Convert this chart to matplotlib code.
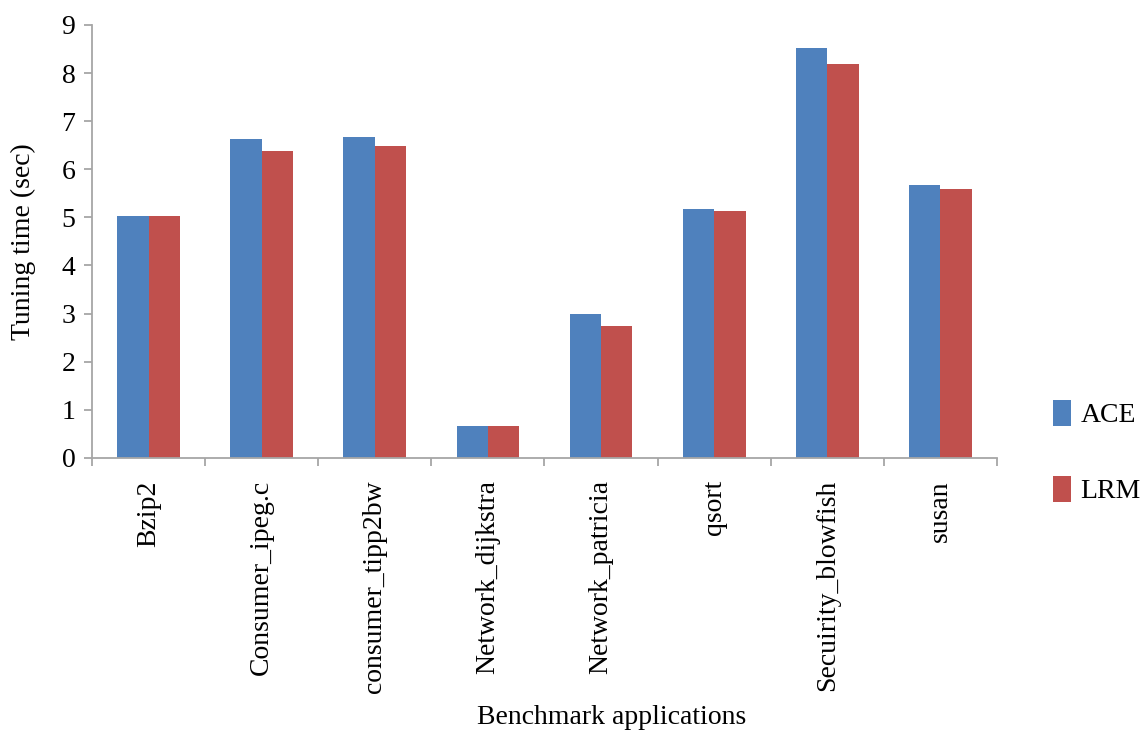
import numpy as np
import matplotlib
matplotlib.use("Agg")
import matplotlib.pyplot as plt

# data
apps = ["Bzip2", "Consumer_ipeg.c", "consumer_tipp2bw", "Network_dijkstra",
        "Network_patricia", "qsort", "Secuirity_blowfish", "susan"]
ace = [5.02, 6.62, 6.67, 0.67, 2.99, 5.18, 8.52, 5.67]
lrm = [5.02, 6.37, 6.49, 0.67, 2.74, 5.14, 8.19, 5.59]

plt.rcParams["font.family"] = ["Liberation Serif", "DejaVu Serif"]

fig = plt.figure(figsize=(11.47, 7.35), dpi=100)
ax = fig.add_axes([0.0802, 0.377, 0.789, 0.589])

x = np.arange(len(apps))
w = 0.277
ax.bar(x - w / 2, ace, w, color="#4F81BD", label="ACE")
ax.bar(x + w / 2, lrm, w, color="#C0504D", label="LRM")

ax.set_xlim(-0.5, len(apps) - 0.5)
ax.set_ylim(0, 9)
ax.set_yticks(range(10))

axis_col = "#a6a6a6"
for s in ["top", "right"]:
    ax.spines[s].set_visible(False)
for s in ["left", "bottom"]:
    ax.spines[s].set_color(axis_col)
    ax.spines[s].set_linewidth(1.3)

ax.set_xticks(x)
ax.set_xticklabels(apps, rotation=90, fontsize=20, va="top")
ax.set_xticks(np.arange(len(apps) + 1) - 0.5, minor=True)
ax.tick_params(axis="x", which="major", length=0, pad=16)
ax.tick_params(axis="x", which="minor", length=6, color=axis_col, width=1.3)
ax.tick_params(axis="y", labelsize=20, length=6, color=axis_col, width=1.3, pad=6)

ax.set_ylabel("Tuning time (sec)", fontsize=20, labelpad=18)
fig.text(0.533, 0.024, "Benchmark applications", fontsize=20, ha="center", va="center")

fig.legend(loc="center left", bbox_to_anchor=(0.896, 0.385), frameon=False,
           fontsize=20, handlelength=0.65, handleheight=1.1, handletextpad=0.35,
           labelspacing=1.7)

fig.savefig("out.png", dpi=100)
